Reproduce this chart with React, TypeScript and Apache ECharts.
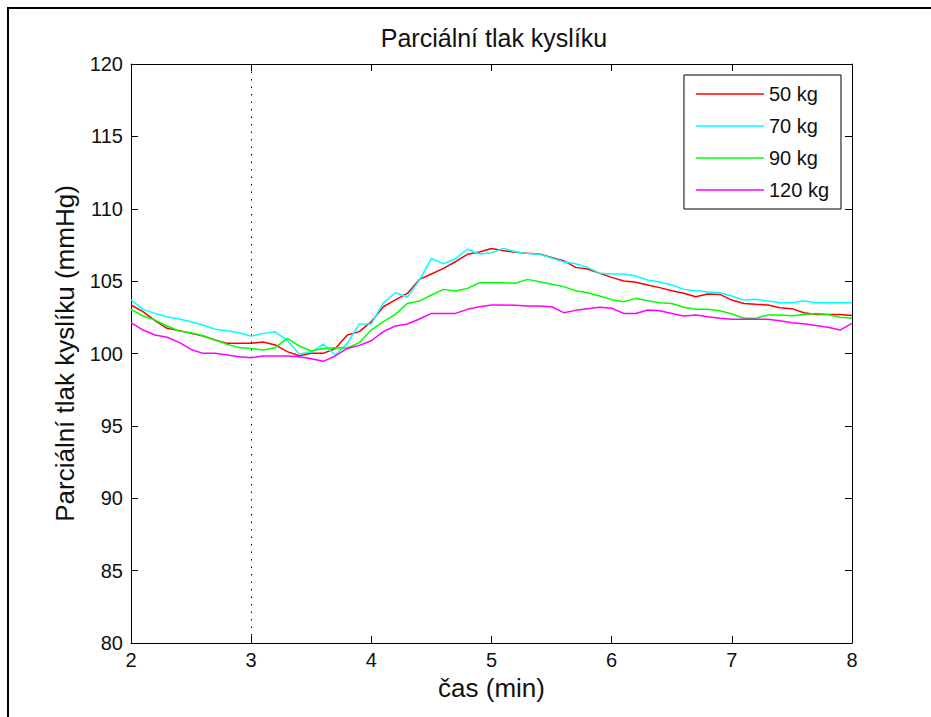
import React, { useEffect, useRef } from "react";
import * as echarts from "echarts";

// Time axis (min)
const time = [
  2.0, 2.1, 2.2, 2.3, 2.4, 2.5, 2.6, 2.7, 2.8, 2.9,
  3.0, 3.1, 3.2, 3.3, 3.4, 3.5, 3.6, 3.7, 3.8, 3.9,
  4.0, 4.1, 4.2, 4.3, 4.4, 4.5, 4.6, 4.7, 4.8, 4.9,
  5.0, 5.1, 5.2, 5.3, 5.4, 5.5, 5.6, 5.7, 5.8, 5.9,
  6.0, 6.1, 6.2, 6.3, 6.4, 6.5, 6.6, 6.7, 6.8, 6.9,
  7.0, 7.1, 7.2, 7.3, 7.4, 7.5, 7.6, 7.7, 7.8, 7.9,
  8.0,
];

// Oxygen partial pressure (mmHg) by body weight
const kg50 = [
  103.35, 102.89, 102.27, 101.74, 101.58, 101.39, 101.21, 100.93, 100.7, 100.7,
  100.7, 100.79, 100.59, 100.13, 99.85, 100.01, 100.01, 100.35, 101.28, 101.51,
  102.2, 103.23, 103.7, 104.15, 105.12, 105.49, 105.88, 106.34, 106.85, 107.01,
  107.26, 107.1, 106.99, 106.92, 106.87, 106.64, 106.41, 105.95, 105.84, 105.54,
  105.26, 105.01, 104.92, 104.73, 104.55, 104.34, 104.16, 103.92, 104.11, 104.08,
  103.69, 103.46, 103.4, 103.35, 103.16, 103.1, 102.82, 102.7, 102.7, 102.7,
  102.63,
];
const kg70 = [
  103.7, 103.05, 102.77, 102.54, 102.38, 102.2, 101.97, 101.67, 101.57, 101.44,
  101.2, 101.39, 101.5, 100.9, 99.96, 100.1, 100.65, 99.9, 100.7, 102.04,
  102.04, 103.5, 104.2, 103.9, 105.07, 106.57, 106.2, 106.55, 107.2, 106.87,
  106.96, 107.26, 107.03, 106.9, 106.85, 106.6, 106.34, 106.2, 105.95, 105.54,
  105.5, 105.49, 105.35, 105.08, 104.94, 104.73, 104.43, 104.34, 104.25, 104.2,
  103.97, 103.69, 103.74, 103.62, 103.51, 103.51, 103.62, 103.51, 103.51, 103.51,
  103.51,
];
const kg90 = [
  103.05, 102.59, 102.31, 101.9, 101.55, 101.44, 101.23, 100.93, 100.63, 100.42,
  100.35, 100.24, 100.4, 101.05, 100.52, 100.17, 100.35, 100.4, 100.38, 100.75,
  101.64, 102.2, 102.7, 103.46, 103.62, 104.04, 104.43, 104.32, 104.5, 104.89,
  104.89, 104.89, 104.85, 105.12, 104.96, 104.78, 104.62, 104.34, 104.2, 103.97,
  103.72, 103.58, 103.81, 103.65, 103.51, 103.46, 103.19, 103.05, 103.05, 102.96,
  102.73, 102.43, 102.43, 102.66, 102.66, 102.61, 102.7, 102.77, 102.7, 102.5,
  102.43,
];
const kg120 = [
  102.13, 101.62, 101.28, 101.12, 100.77, 100.28, 100.01, 100.01, 99.9, 99.78,
  99.71, 99.83, 99.83, 99.83, 99.78, 99.64, 99.46, 99.83, 100.35, 100.56,
  100.88, 101.51, 101.9, 102.04, 102.38, 102.77, 102.77, 102.77, 103.05, 103.23,
  103.35, 103.35, 103.33, 103.28, 103.28, 103.23, 102.82, 102.98, 103.09, 103.19,
  103.13, 102.77, 102.77, 103.0, 102.96, 102.77, 102.59, 102.66, 102.54, 102.43,
  102.36, 102.36, 102.36, 102.36, 102.27, 102.13, 102.06, 101.94, 101.81, 101.62,
  102.08,
];

const seriesNames = ["50 kg", "70 kg", "90 kg", "120 kg"];
const seriesColors = ["#ff0000", "#00ffff", "#00ff00", "#ff00ff"];
const seriesValues = [kg50, kg70, kg90, kg120];

const FONT = '"Liberation Sans", Arial, Helvetica, sans-serif';

export default function App() {
  const ref = useRef<HTMLDivElement>(null);

  useEffect(() => {
    if (!ref.current) return;
    const chart = echarts.init(ref.current, null, { renderer: "svg" });

    const axisCommon = {
      type: "value" as const,
      axisLine: { show: true, onZero: false, lineStyle: { color: "#000", width: 1 } },
      axisTick: { show: true, inside: true, length: 7, lineStyle: { color: "#000" } },
      splitLine: { show: false },
    };

    const series: any[] = seriesNames.map((name, i) => ({
      name,
      type: "line",
      data: time.map((t, j) => [t, seriesValues[i][j]]),
      symbol: "none",
      showSymbol: false,
      lineStyle: { color: seriesColors[i], width: 1.5 },
      itemStyle: { color: seriesColors[i] },
      z: 3,
    }));

    // dotted marker at t = 3 min
    series[0].markLine = {
      silent: true,
      symbol: "none",
      label: { show: false },
      lineStyle: { color: "#000", width: 1, type: [1.5, 6] },
      data: [{ xAxis: 3 }],
      z: 1,
    };

    chart.setOption({
      animation: false,
      backgroundColor: "#fff",
      textStyle: { fontFamily: FONT, color: "#000" },
      title: {
        text: "Parciální tlak kyslíku",
        left: 489,
        top: 20,
        textAlign: "center",
        textStyle: { fontSize: 25, fontWeight: "normal", color: "#111", fontFamily: FONT },
      },
      grid: { left: 131, top: 64, right: 79, bottom: 74 },
      legend: {
        orient: "vertical",
        right: 90,
        top: 75,
        icon: "rect",
        itemWidth: 68,
        itemHeight: 1.5,
        itemGap: 12,
        padding: [9, 12, 9, 12],
        borderColor: "#000",
        borderWidth: 1,
        backgroundColor: "#fff",
        textStyle: { fontSize: 20, color: "#111", fontFamily: FONT, height: 20, lineHeight: 20 },
        data: seriesNames,
      },
      xAxis: [
        {
          ...axisCommon,
          position: "bottom",
          min: 2,
          max: 8,
          interval: 1,
          name: "čas (min)",
          nameLocation: "middle",
          nameGap: 31,
          nameTextStyle: { fontSize: 26, color: "#111", fontFamily: FONT },
          axisLabel: { margin: 7, fontSize: 20, color: "#111", fontFamily: FONT },
        },
        {
          ...axisCommon,
          position: "top",
          min: 2,
          max: 8,
          interval: 1,
          axisLabel: { show: false },
        },
      ],
      yAxis: [
        {
          ...axisCommon,
          position: "left",
          min: 80,
          max: 120,
          interval: 5,
          name: "Parciální tlak kyslíku (mmHg)",
          nameLocation: "middle",
          nameGap: 53,
          nameTextStyle: { fontSize: 26, color: "#111", fontFamily: FONT },
          axisLabel: { margin: 8, fontSize: 20, color: "#111", fontFamily: FONT },
        },
        {
          ...axisCommon,
          position: "right",
          min: 80,
          max: 120,
          interval: 5,
          axisLabel: { show: false },
        },
      ],
      graphic: [
        {
          type: "rect",
          silent: true,
          z: -10,
          shape: { x: 8, y: 8, width: 1000, height: 1000 },
          style: { fill: "none", stroke: "#000", lineWidth: 2 },
        },
      ],
      series,
    });

    return () => chart.dispose();
  }, []);

  return (
    <div
      ref={ref}
      style={{ position: "absolute", left: 0, top: 0, width: 931, height: 717 }}
    />
  );
}
